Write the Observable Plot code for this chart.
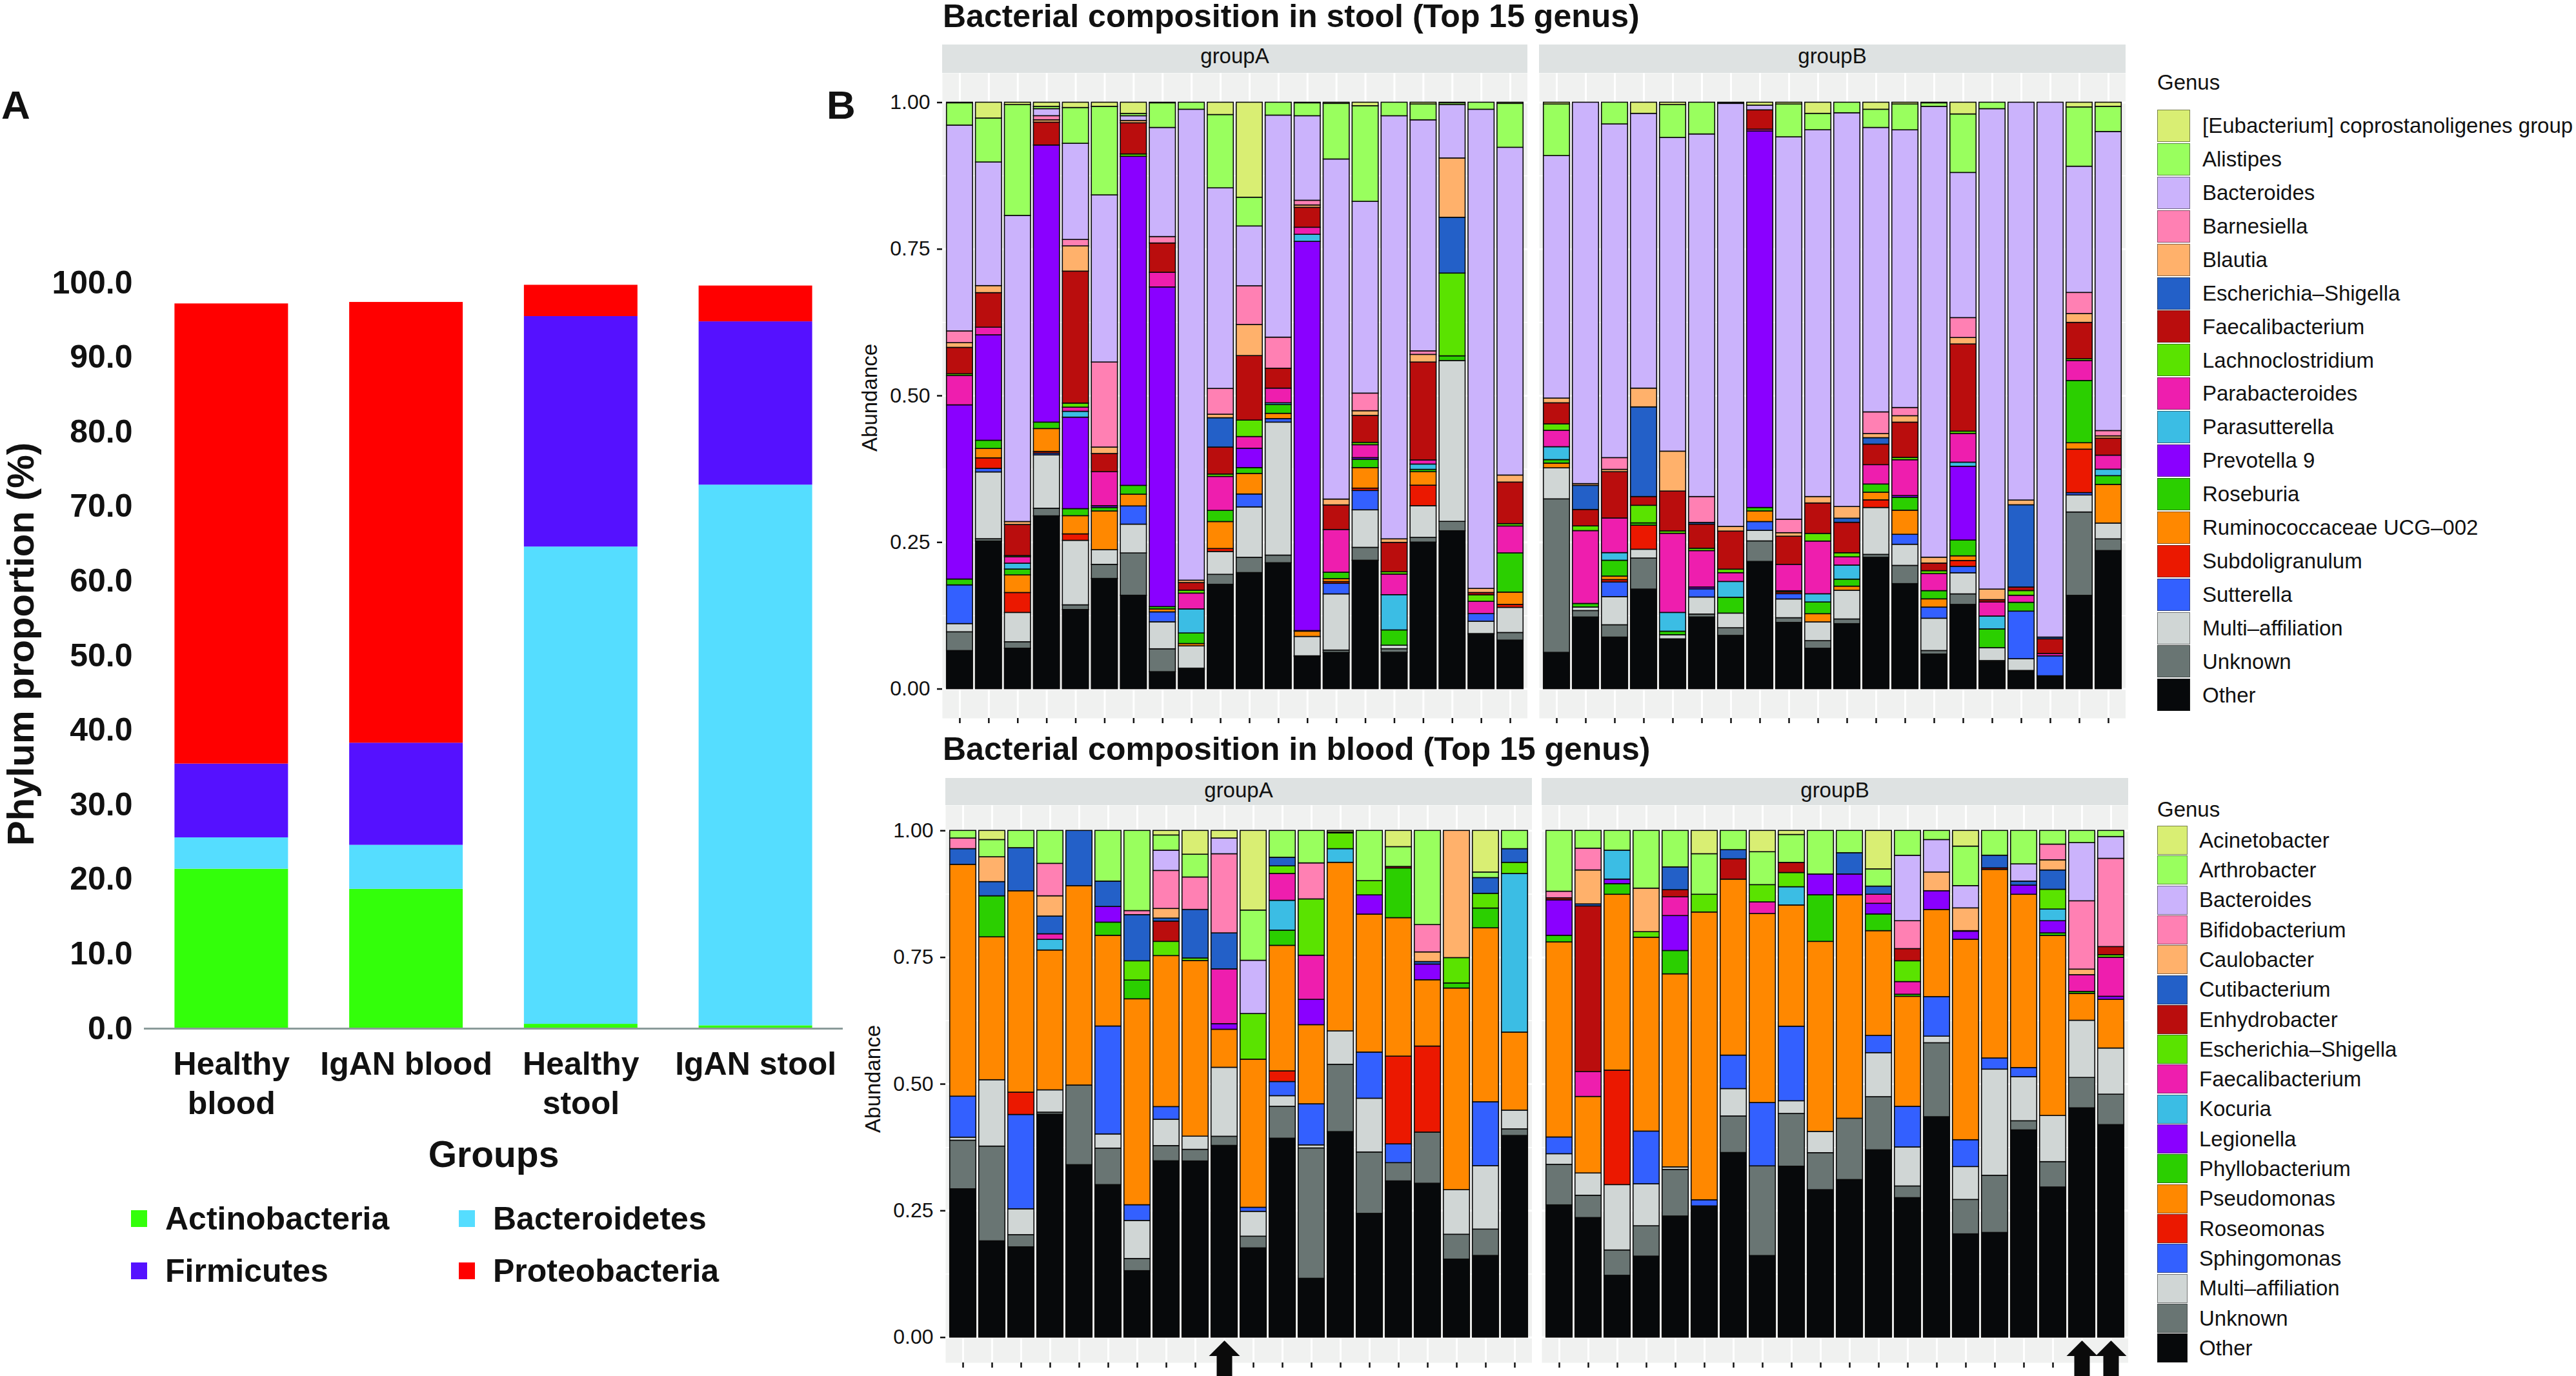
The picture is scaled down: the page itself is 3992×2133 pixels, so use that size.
<!DOCTYPE html>
<html>
<head>
<meta charset="utf-8">
<script src="https://cdn.jsdelivr.net/npm/d3@7"></script>
<script src="https://cdn.jsdelivr.net/npm/@observablehq/plot@0.6"></script>
<style>
html,body{margin:0;padding:0;background:#fff}
#page{position:relative;width:3992px;height:2133px;font-family:"Liberation Sans",Arial,sans-serif;color:#111}
.t{position:absolute;white-space:nowrap;line-height:1.2}
.box{position:absolute}
</style>
</head>
<body>
<div id="page"></div>
<script>
// ---------- Panel A ----------
const groups = ["Healthy\nblood", "IgAN blood", "Healthy\nstool", "IgAN stool"];
const phyla = ["Actinobacteria", "Bacteroidetes", "Firmicutes", "Proteobacteria"];
const phylumColors = ["#33FF0A", "#55DDFF", "#5511FF", "#FF0000"];
const actinobacteria = [21.4, 18.7, 0.6, 0.4];
const bacteroidetes = [4.2, 5.9, 64.0, 72.5];
const firmicutes = [9.9, 13.7, 30.9, 21.9];
const proteobacteria = [61.7, 59.1, 4.2, 4.8];
const percentTicks = [0, 10, 20, 30, 40, 50, 60, 70, 80, 90, 100];

// ---------- Panel B: names listed from the bottom of each stack to the top ----------
const stoolGenera = ["Other", "Unknown", "Multi–affiliation", "Sutterella", "Subdoligranulum", "Ruminococcaceae UCG–002", "Roseburia", "Prevotella 9", "Parasutterella", "Parabacteroides", "Lachnoclostridium", "Faecalibacterium", "Escherichia–Shigella", "Blautia", "Barnesiella", "Bacteroides", "Alistipes", "[Eubacterium] coprostanoligenes group"];
const bloodGenera = ["Other", "Unknown", "Multi–affiliation", "Sphingomonas", "Roseomonas", "Pseudomonas", "Phyllobacterium", "Legionella", "Kocuria", "Faecalibacterium", "Escherichia–Shigella", "Enhydrobacter", "Cutibacterium", "Caulobacter", "Bifidobacterium", "Bacteroides", "Arthrobacter", "Acinetobacter"];
const genusColors = ["#07090B", "#697573", "#D0D6D5", "#3360FF", "#EB1800", "#FF8800", "#2BCF00", "#8A00FF", "#3BBDE4", "#EE1EAE", "#5AE300", "#BA0D0D", "#2360C8", "#FFB16B", "#FF80B3", "#CBB3FC", "#99FF5E", "#D9EE73"];
const abundanceTicks = [0, 0.25, 0.5, 0.75, 1];
const minorTicks = [0.125, 0.375, 0.625, 0.875];

// percent abundance per sample, one column per genus in the order above
const stoolGroupA = [
[6.5,3.2,1.4,6.6,0,0,1.0,29.7,0,5.0,0.3,4.5,0,0.8,2.0,35.1,3.8,0.1],
[25.2,0.4,11.4,0.6,1.8,1.6,1.4,18.0,0,1.3,0,5.9,0,1.2,0,21.1,7.5,2.7],
[6.9,1.1,5.0,0,3.4,3.0,1.0,0,1.0,1.1,0.2,5.3,0,0.5,0,52.2,18.9,0.4],
[29.5,1.3,9.1,0.3,0.3,3.9,1.1,47.3,0,0,0,3.9,0,0.4,0.7,1.2,0.4,0.7],
[13.5,0.8,11.0,0,1.1,3.1,1.2,15.6,1.0,0.7,0.7,22.5,0,4.3,1.1,16.4,6.1,0.9],
[18.8,2.4,2.5,0,0,6.6,0.6,0.3,0,5.8,0,3.1,0,1.1,14.5,28.5,15.1,0.7],
[15.9,7.2,4.9,3.1,0,2.0,1.5,56.0,0,0,0.4,5.3,0,0.4,0,0.8,0.4,1.9],
[2.9,3.9,4.6,1.7,0,0.5,0.4,54.5,0,2.5,0,5.0,0,0,1.1,18.6,4.2,0.1],
[3.3,0.2,3.8,0,0,0.4,1.8,0,4.1,2.7,0.5,1.3,0,0.4,0,80.3,1.2,0],
[17.8,1.7,3.9,0,0.5,4.6,1.9,0,0,5.8,0.4,4.6,5.0,0.6,4.4,34.2,12.5,2.1],
[19.8,2.6,8.6,2.2,0,3.5,1.0,3.3,0,2.0,2.8,11.0,0,5.3,6.6,10.2,4.9,16.2],
[21.5,1.3,22.7,0.6,0,0.9,1.5,0,0.3,2.5,0,3.4,0,0,5.3,37.9,2.2,0],
[5.5,0.1,3.3,0,0,0.9,0.1,66.3,1.2,1.2,0,3.4,0,0.4,0.8,14.4,2.2,0.1],
[6.2,0.4,9.6,1.8,0.3,0.5,1.1,0,0,7.3,0,4.2,0,1.0,0,58.1,9.5,0.2],
[21.9,2.2,6.4,3.3,0.4,3.5,1.4,0.3,0,2.2,0.4,4.6,0,0.8,3.0,32.7,16.3,0.6],
[6.2,0.6,0.6,0,0,0,2.6,0,6.0,3.5,0.4,5.0,0,0.6,0,72.0,2.3,0],
[25.0,0.8,5.4,0,3.5,2.3,0.4,0,0.9,0.7,0,16.7,0,1.3,0.6,39.4,2.7,0.3],
[26.9,1.6,27.4,0,0,0,0.8,0,0,0,14.1,0,9.5,10.1,0,9.1,0.3,0.1],
[9.3,0.1,2.1,1.3,0,0,0,0,0,2.1,1.1,0.4,0,0.7,0,81.7,1.2,0],
[8.3,1.3,4.3,0,0.5,2.1,6.7,0,0,4.6,0.4,7.1,0,1.2,0,56.0,7.5,0.2]
];
const stoolGroupB = [
[6.2,26.2,5.3,0,0,0.8,0.6,0,2.2,2.8,1.1,3.6,0,0.8,0,41.4,8.8,0.3],
[12.2,1.1,0.6,0,0,0,0.6,0,0,12.4,0.8,2.8,4.1,0.3,0,64.9,0,0],
[8.8,2.1,4.8,2.5,0.4,0.6,2.7,0,1.3,5.9,0,7.9,0,0.4,2.0,56.9,3.7,0],
[17.0,5.3,1.5,0,4.1,0,0.4,0,0,0,3.0,1.5,15.3,3.2,0,46.9,0,1.9],
[8.4,0.1,0.7,0,0,0,0.6,0,3.2,13.5,0.4,6.8,0,6.8,0,53.5,5.6,0.4],
[12.2,0.5,2.9,1.4,0,0,0,0.3,0,6.2,0.4,4.1,0.3,0,4.4,61.7,5.4,0],
[9.1,1.3,2.5,0,0,0,2.7,0,2.7,1.5,0.6,6.5,0,0.8,0,72.2,0.1,0.1],
[21.7,3.5,1.8,1.5,0,1.8,0.6,64.2,0,0.3,0,3.3,0,0,0,0.8,0,0.5],
[11.3,0.8,3.2,0.9,0.3,0,0.2,0,0,4.5,0,4.8,0,0.6,2.3,65.2,5.6,0.3],
[6.9,1.3,3.2,0,0,1.4,2.0,0,1.4,9.0,1.3,5.2,0,1.1,0,62.6,2.8,1.9],
[11.1,0.8,4.9,0,0,0.7,1.2,0,2.4,1.4,0.7,5.2,0.7,2.0,0,67.2,1.8,0],
[22.4,0.5,8.0,0,1.3,1.3,1.4,0,0,3.3,0,3.5,1.1,0.7,3.7,48.5,3.1,1.2],
[17.9,3.1,3.6,1.7,0,4.1,2.2,0.3,0,6.1,0.4,6.0,0,1.1,1.4,47.3,4.4,0.3],
[5.9,0.6,5.5,1.9,0,1.4,1.4,0,0,2.9,0.5,1.3,0,1.0,0,76.8,0.6,0.1],
[14.4,1.8,3.6,1.1,1.0,0.8,2.7,12.6,0.7,4.9,0.4,14.9,0,1.1,3.4,24.8,10.0,2.0],
[4.6,0.2,2.2,0,0,0,3.2,0,2.2,2.4,0,0.4,0,1.8,0,82.0,1.1,0],
[3.0,0.1,2.0,8.1,0,0,1.5,0,0,1.2,0.8,0.6,14.0,0.8,0,67.7,0,0],
[2.2,0,0,3.4,0,0,0,0,0,0.4,0,2.5,0.3,0,0,91.2,0,0],
[15.9,14.2,2.9,0.4,7.4,1.1,10.6,0,0,3.4,0.3,6.2,0,1.5,3.6,21.5,10.1,0.8],
[23.6,2.0,2.7,0,0,6.6,1.5,0,1.1,2.4,0,2.9,0,0.4,0.9,51.1,4.3,0.7]
];
const bloodGroupA = [
[29.3,9.6,0.6,8.1,0,45.8,0,0,0,0,0,0,3.1,0,2.1,0,1.5,0],
[19.0,18.7,13.1,0,0,28.2,8.1,0,0,0,0,0,2.8,4.9,0,0,3.4,1.8],
[17.8,2.4,5.1,18.6,4.4,39.7,0,0,0,0,0,0,8.5,0,0,0,3.4,0],
[44.0,0.4,4.4,0,0,27.6,0,0,2.1,1.1,0,0,3.5,4.0,6.4,0,6.5,0],
[34.0,15.7,0,0,0,39.3,0,0,0,0,0,0,10.9,0,0,0,0,0],
[30.1,7.2,2.8,21.3,0,17.9,2.6,3.1,0,0,0,0,5.0,0,0,0,10.0,0],
[13.1,2.4,7.5,3.1,0,40.6,3.7,0,0,0,3.8,0,9.1,0,0.8,0,15.8,0],
[34.8,3.0,5.2,2.5,0,29.8,0,0,0,0,2.8,4.0,0.6,1.9,7.5,4.0,3.0,0.9],
[34.8,2.3,2.6,0,0,34.7,0,0,0,0,0.5,0,9.6,0,6.4,0,4.5,4.7],
[37.8,1.8,13.6,0,0,7.5,0,1.1,0,10.8,0,0,7.1,0,15.6,3.1,0,1.5],
[17.6,2.3,4.9,0.8,0,29.2,0,0,0,0,9.0,0,0,0,0,10.5,9.9,15.7],
[39.3,6.3,2.1,2.8,2.1,24.8,3.0,0,5.9,5.3,1.5,0,1.7,0,0,0,5.3,0],
[11.6,25.7,0.6,8.1,0,15.6,0,5.0,0,8.7,11.1,0,0,0,7.1,0,6.4,0],
[40.6,13.3,6.6,0,0,33.3,0,0,2.7,0,3.1,0,0,0.2,0,0,0,0.3],
[24.4,12.1,10.6,9.1,0,27.2,0,3.8,0,0,2.8,0,0,0,0,0,9.9,0],
[30.8,3.6,0,3.7,17.3,27.3,9.8,0,0,0,0,0.3,0,0,0,0,3.9,3.2],
[30.4,10.1,0,0,17.0,13.1,0,3.1,0,0,0,0,0.5,1.9,5.4,0,18.6,0],
[15.4,4.9,8.8,0,0,39.8,1.0,0,0,0,5.0,0,0,25.1,0,0,0,0],
[16.1,5.2,12.5,12.6,0,34.3,3.9,0,0,0,2.9,0,3.1,0,0,0,1.1,8.2],
[39.8,1.3,3.7,0,0,15.4,0,0,31.3,0,2.2,0,2.7,0,0,0,3.6,0]
];
const bloodGroupB = [
[26.1,8.0,2.1,3.3,0,38.5,1.3,7.0,0,0,0,0.4,0,0,1.3,0,12.0,0],
[23.6,4.4,4.4,0,0,15.1,0,0,0,4.9,0,32.7,0.4,6.7,4.3,0,3.5,0],
[12.2,5.0,12.9,0,22.6,34.7,2.1,0.9,5.7,0,0,0,0,0,0,0,3.9,0],
[16.0,6.0,8.3,10.4,0,38.3,0,0,0,0,1.1,0,0,8.6,0,0,11.4,0],
[23.9,9.2,0.5,0,0,38.1,4.6,6.9,0,3.7,0,1.4,4.5,0,0,0,7.2,0],
[25.9,0,0,1.2,0,56.8,0,0,0,0,3.5,0,0,0,0,0,8.0,4.6],
[36.4,7.2,5.4,6.6,0,34.7,0,0,0,0,0,4.0,1.8,0,0,0,3.8,0],
[16.1,17.7,0,12.5,0,37.3,0,0,0,2.3,3.4,0,0,0,0,0,6.5,4.2],
[33.7,10.4,2.5,14.7,0,23.9,0,0,3.6,0,2.8,2.0,0,0,0,0,5.5,0.8],
[29.1,7.3,4.2,0,0,37.5,9.2,4.1,0,0,0,0,0,0,0,0,8.6,0],
[31.1,12.1,0,0,0,44.1,0,4.1,0,0,0,0,4.2,0,0,0,4.4,0],
[37.0,10.5,8.7,3.4,0,20.7,3.3,2.1,0,1.8,0,0,1.6,0,0,0,3.4,7.6],
[27.5,2.3,7.7,8.0,0,21.7,0.4,0,0,2.5,4.1,2.4,0,0,5.5,12.9,4.9,0],
[43.5,14.6,1.3,7.8,0,17.2,0,3.7,0,0,0,0,0,3.7,0,6.4,1.8,0],
[20.4,6.8,6.5,5.3,0,39.6,0,1.6,0,0,0,0,0.1,4.5,0,4.4,7.8,3.1],
[20.7,11.3,21.0,2.2,0,37.3,0,0,0,0,0,0.3,2.5,0,0,0,4.9,0],
[40.9,1.8,8.7,1.8,0,34.2,0,1.8,0,0,0,0,0.8,0,0,3.4,6.6,0],
[29.6,5.0,9.1,0,0,35.5,0.5,2.4,2.3,0,3.9,0,3.8,2.0,3.1,0,2.7,0],
[45.3,6.0,11.3,0,0,5.3,0.4,0,0,3.3,0,0,0,1.1,13.5,11.5,2.4,0],
[41.9,6.0,9.1,0,0,9.6,0,0.6,0,7.7,0.5,1.6,0,0,17.4,4.3,1.2,0]
];
const arrowedBloodA = [10];
const arrowedBloodB = [19, 20];

// ---------- helpers ----------
const page = document.getElementById("page");
const FONT = '"Liberation Sans", Arial, sans-serif';
function text(s, x, y, size, opts = {}) {
  const d = document.createElement("div");
  d.className = "t";
  d.textContent = s;
  d.style.top = (y - size * 0.6) + "px";
  d.style.fontSize = size + "px";
  if (opts.bold) d.style.fontWeight = "bold";
  if (opts.width) {
    d.style.left = x + "px";
    d.style.width = opts.width + "px";
    d.style.textAlign = "center";
  } else {
    d.style.left = x + "px";
  }
  page.appendChild(d);
  return d;
}
function box(x, y, w, h, bg, border) {
  const d = document.createElement("div");
  d.className = "box";
  d.style.cssText += `left:${x}px;top:${y}px;width:${w}px;height:${h}px;background:${bg};` + (border ? `box-shadow:inset 0 0 0 1px ${border};` : "");
  page.appendChild(d);
  return d;
}
function place(svg, left, top) {
  svg.style.position = "absolute";
  svg.style.left = left + "px";
  svg.style.top = top + "px";
  svg.style.maxWidth = "none";
  svg.style.background = "transparent";
  page.appendChild(svg);
}

const arrowSymbol = {
  draw(c) {
    c.moveTo(0, 0); c.lineTo(24, 24); c.lineTo(12, 24); c.lineTo(12, 60);
    c.lineTo(-12, 60); c.lineTo(-12, 24); c.lineTo(-24, 24); c.closePath();
  }
};

// ---------- Panel A ----------
const phylumSeries = [actinobacteria, bacteroidetes, firmicutes, proteobacteria];
const phylumRows = groups.flatMap((g, i) => phyla.map((p, j) => ({group: g, phylum: p, value: phylumSeries[j][i]})));
place(Plot.plot({
  width: 1320, height: 1440,
  marginLeft: 223, marginRight: 14, marginTop: 38, marginBottom: 246,
  style: {fontFamily: FONT, fontSize: "50px", fontWeight: "bold", color: "#111", background: "transparent"},
  x: {type: "band", domain: groups, paddingInner: 0.35, paddingOuter: 0.175, round: false},
  y: {domain: [0, 100]},
  color: {type: "ordinal", domain: phyla, range: phylumColors},
  marks: [
    Plot.barY(phylumRows, {x: "group", y: "value", fill: "phylum"}),
    Plot.ruleY([0], {stroke: "#8B9B9A", strokeWidth: 3}),
    Plot.axisY({ticks: percentTicks, tickFormat: ".1f", tickSize: 0, tickPadding: 18, label: null}),
    Plot.axisX({tickSize: 0, tickPadding: 28, lineHeight: 1.22, label: null}),
    Plot.text(["Groups"], {frameAnchor: "bottom", textAnchor: "middle", lineAnchor: "middle", dy: 196, fontSize: 57, fontWeight: "bold"}),
    Plot.text(["Phylum proportion (%)"], {frameAnchor: "left", textAnchor: "middle", lineAnchor: "middle", rotate: -90, dx: -190, dy: -18, fontSize: 58, fontWeight: "bold"})
  ]
}), 0, 400);

text("A", 2, 163, 62, {bold: true});
text("B", 1281, 163, 62, {bold: true});

const legendA = [[0, 203, 1889], [1, 711, 1889], [2, 203, 1970], [3, 711, 1970]];
legendA.forEach(([i, x, y]) => {
  box(x, y - 13, 25, 26, phylumColors[i]);
  text(phyla[i], x + 53, y, 50, {bold: true});
});

// ---------- Panel B ----------
function panel({rows, names, left, top, width, height, bottom, yAxis, arrows, labelDy}) {
  const samples = d3.range(1, rows.length + 1);
  const long = rows.flatMap((r, i) => r.map((v, j) => ({sample: i + 1, genus: names[j], value: v}))).filter(d => d.value > 0);
  const ml = yAxis ? 170 : 0;
  const marks = [
    Plot.frame({fill: "#F0F1F0", stroke: "none"}),
    Plot.ruleY(minorTicks, {stroke: "#fff", strokeWidth: 1.5}),
    Plot.ruleY(abundanceTicks, {stroke: "#fff", strokeWidth: 3}),
    Plot.ruleX(samples, {x: d => d, stroke: "#fff", strokeWidth: 3}),
    Plot.barY(long, {x: "sample", y: "value", fill: "genus", offset: "normalize", stroke: "#0a0a0a", strokeWidth: 1.6}),
    Plot.axisX({fill: "none", stroke: "#111", strokeWidth: 2.5, tickSize: 8, label: null})
  ];
  if (yAxis) {
    marks.push(
      Plot.axisY({ticks: abundanceTicks, tickFormat: ".2f", tickSize: 8, tickPadding: 11, stroke: "#111", strokeWidth: 2.5, label: null}),
      Plot.text(["Abundance"], {frameAnchor: "left", textAnchor: "middle", lineAnchor: "middle", rotate: -90, dx: -112, dy: labelDy, fontSize: 33})
    );
  }
  if (arrows) {
    marks.push(Plot.dot(arrows, {x: d => d, y: () => -0.006, symbol: arrowSymbol, fill: "#0b0b0b", stroke: "none"}));
  }
  place(Plot.plot({
    width: ml + width, height: height + bottom,
    marginLeft: ml, marginRight: 0, marginTop: 0, marginBottom: bottom,
    style: {fontFamily: FONT, fontSize: "32px", color: "#111", background: "transparent"},
    x: {type: "band", domain: samples, paddingInner: 0.1, paddingOuter: 0.15, round: false},
    y: {domain: [-0.05, 1.05]},
    color: {type: "ordinal", domain: names, range: genusColors},
    marks
  }), left - ml, top);
}

panel({rows: stoolGroupA, names: stoolGenera, left: 1460, top: 113, width: 907, height: 1000, bottom: 10, yAxis: true, labelDy: 3});
panel({rows: stoolGroupB, names: stoolGenera, left: 2385, top: 113, width: 909, height: 1000, bottom: 10});
panel({rows: bloodGroupA, names: bloodGenera, left: 1465, top: 1248, width: 909, height: 864, bottom: 21, yAxis: true, labelDy: -8, arrows: arrowedBloodA});
panel({rows: bloodGroupB, names: bloodGenera, left: 2389, top: 1248, width: 909, height: 864, bottom: 21, arrows: arrowedBloodB});

// titles and facet strips
text("Bacterial composition in stool (Top 15 genus)", 1461, 25, 50, {bold: true});
text("Bacterial composition in blood (Top 15 genus)", 1461, 1161, 50, {bold: true});
[[1460, 907, 69, 44, 87, "groupA"], [2385, 909, 69, 44, 87, "groupB"], [1465, 909, 1206, 42, 1225, "groupA"], [2389, 909, 1206, 42, 1225, "groupB"]].forEach(([x, w, y, h, ty, s]) => {
  box(x, y, w, h, "#DEE2E2");
  text(s, x, ty, 33, {width: w});
});

// genus legends
function genusLegend(names, keyX, keyW, keyH, step, firstY, textX, titleY) {
  text("Genus", keyX, titleY, 33);
  const top = names.slice().reverse();
  const cols = genusColors.slice().reverse();
  top.forEach((n, i) => {
    const y = firstY + i * step;
    box(keyX, y, keyW, keyH, cols[i], "rgba(40,40,40,.55)");
    text(n, textX, y + keyH / 2, 33);
  });
}
genusLegend(stoolGenera, 3343, 51, 50, 51.9, 170, 3413, 128);
genusLegend(bloodGenera, 3343, 47, 45, 46.3, 1280, 3408, 1255);
</script>
</body>
</html>
